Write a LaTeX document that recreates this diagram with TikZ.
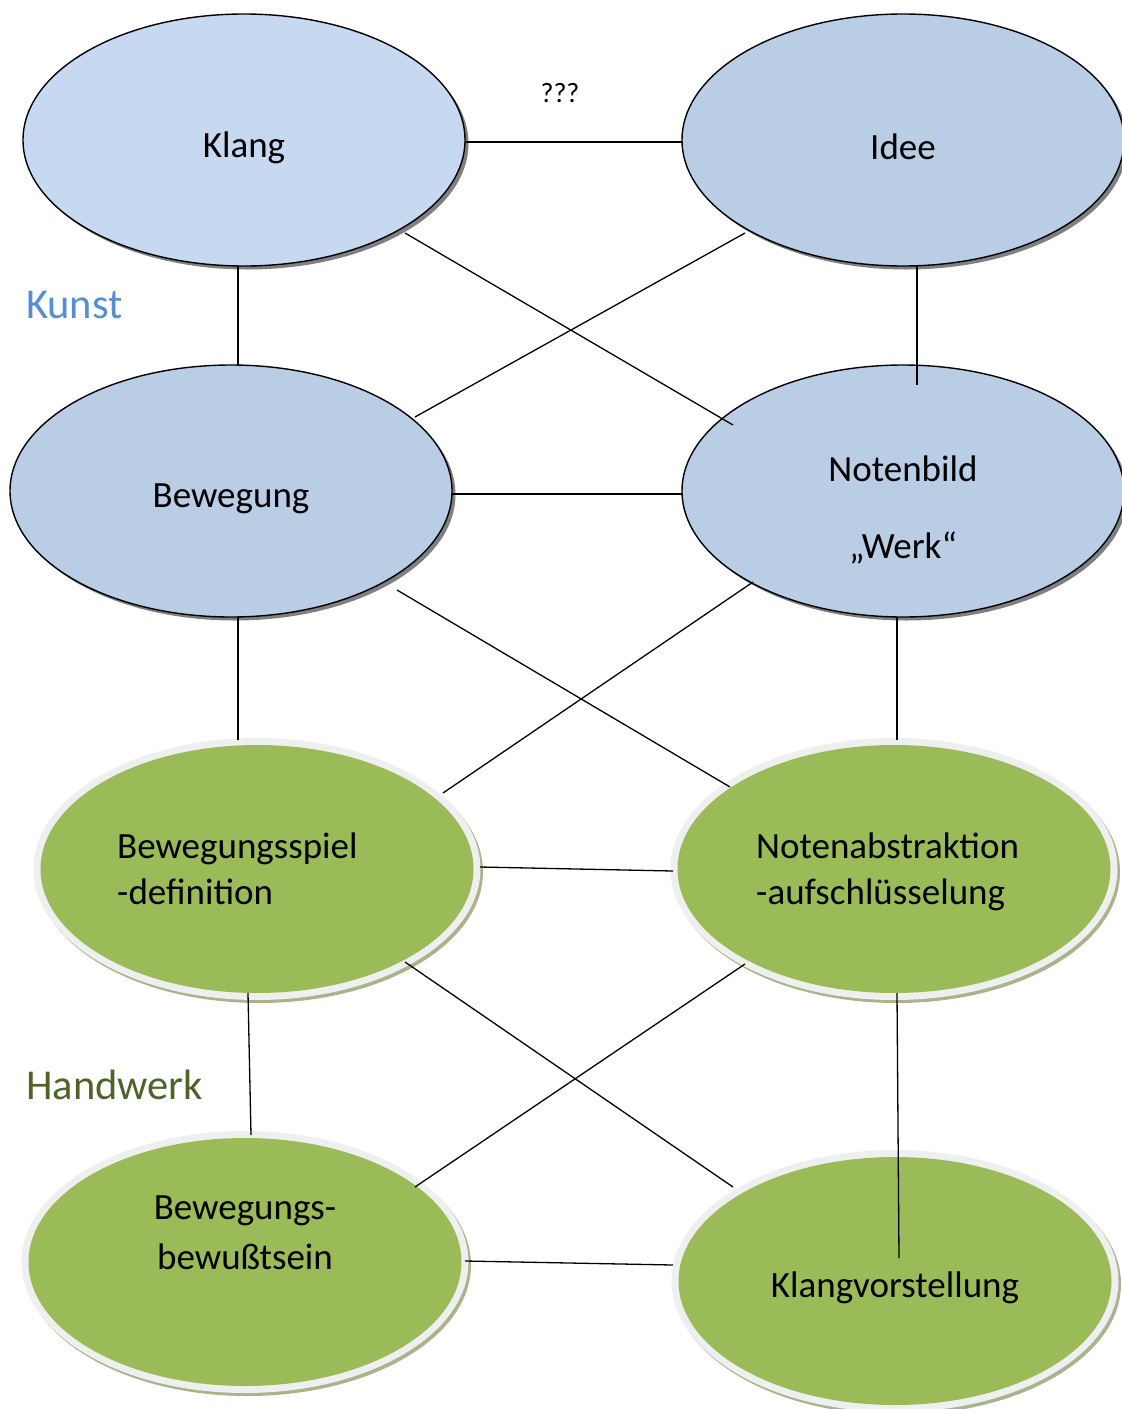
\documentclass[tikz,border=0pt]{standalone}
\usepackage{fontspec}
\setmainfont{Carlito}
\usetikzlibrary{shapes.geometric,shadows,calc}
\definecolor{klangblue}{HTML}{C6D9F1}
\definecolor{nodeblue}{HTML}{B9CDE5}
\definecolor{nodegreen}{HTML}{9BBB59}
\definecolor{ringgray}{HTML}{EFEFEF}
\definecolor{greenshadow}{HTML}{A9B38C}
\definecolor{kunstblue}{HTML}{558ED5}
\definecolor{handwerkgreen}{HTML}{4F6228}
\tikzset{
  blueell/.style={ellipse, draw=black, line width=1.4pt, inner sep=0pt,
    minimum width=442pt, minimum height=252pt,
    drop shadow={shadow xshift=3.5pt, shadow yshift=-3.5pt, fill=black!50, opacity=1}},
  greenring/.style={ellipse, fill=ringgray, inner sep=0pt,
    minimum width=447pt, minimum height=262pt,
    drop shadow={shadow xshift=2.5pt, shadow yshift=-3pt, fill=greenshadow, opacity=1}},
  greencore/.style={ellipse, fill=nodegreen, inner sep=0pt,
    minimum width=433pt, minimum height=248pt},
  bigtext/.style={font=\fontsize{37}{46}\selectfont, inner sep=0pt},
  smalltext/.style={font=\fontsize{28}{34}\selectfont, inner sep=0pt},
  sidelabel/.style={font=\fontsize{42.5}{50}\selectfont, inner sep=0pt, anchor=west},
  conn/.style={draw=black, line width=1.3pt}
}
\begin{document}
\begin{tikzpicture}[x=1pt, y=-1pt]
\useasboundingbox (0,0) rectangle (1122,1409);

% blue ellipses
\node[blueell, fill=klangblue] (K) at (244,140) {};
\node[blueell, fill=nodeblue] (I) at (903,140) {};
\node[blueell, fill=nodeblue] (B) at (231,491) {};
\node[blueell, fill=nodeblue] (N) at (903,491) {};

% green ellipses
\node[greenring] (BS) at (257,869) {};
\node[greencore] (BSc) at (257,869) {};
\node[greenring] (NA) at (894,869) {};
\node[greencore] (NAc) at (894,869) {};
\node[greenring] (BB) at (245,1262) {};
\node[greencore] (BBc) at (245,1262) {};
\node[greenring] (KV) at (895,1281) {};
\node[greencore] (KVc) at (895,1281) {};

% connectors
\draw[conn] ($(K.center)+(222,2)$) -- ($(I.center)+(-220,2)$);
\draw[conn] ($(K.center)+(-6,126)$) -- ($(B.center)+(7,-125)$);
\draw[conn] ($(I.center)+(14,126)$) -- ($(N.center)+(14,-106)$);
\draw[conn] ($(K.center)+(161,93)$) -- ($(N.center)+(-170,-66)$);
\draw[conn] ($(I.center)+(-158,93)$) -- ($(B.center)+(184,-74)$);
\draw[conn] ($(B.center)+(221,3)$) -- ($(N.center)+(-220,3)$);
\draw[conn] ($(B.center)+(7,126)$) -- ($(BS.center)+(-19,-129)$);
\draw[conn] ($(N.center)+(-6,126)$) -- ($(NA.center)+(3,-129)$);
\draw[conn] ($(B.center)+(166,99)$) -- ($(NA.center)+(-164,-82)$);
\draw[conn] ($(N.center)+(-150,91)$) -- ($(BS.center)+(186,-76)$);
\draw[conn] ($(BS.center)+(223,-2)$) -- ($(NA.center)+(-221,2)$);
\draw[conn] ($(BS.center)+(-9,124)$) -- ($(BB.center)+(6,-127)$);
\draw[conn] ($(NA.center)+(3,124)$) -- ($(KV.center)+(4,-23)$);
\draw[conn] ($(BS.center)+(148,93)$) -- ($(KV.center)+(-162,-94)$);
\draw[conn] ($(NA.center)+(-149,95)$) -- ($(BB.center)+(170,-75)$);
\draw[conn] ($(BB.center)+(220,-1)$) -- ($(KV.center)+(-222,-16)$);

% texts
\node[smalltext] (q) at (560,93) {???};
\node[bigtext] (tK) at (244,148) {Klang};
\node[bigtext] (tI) at (903,147) {Idee};
\node[bigtext] (tB) at (231,499) {Bewegung};
\node[bigtext] (tN1) at (903,469) {Notenbild};
\node[bigtext] (tN2) at (903,548) {„Werk“};
\node[bigtext, align=left, anchor=west] (tBS) at (117,869) {Bewegungsspiel\\-definition};
\node[bigtext, align=left, anchor=west] (tNA) at (756,872) {Notenabstraktion\\-aufschlüsselung};
\node[bigtext, align=center, font=\fontsize{37}{50}\selectfont] (tBB) at (245,1233) {Bewegungs-\\bewußtsein};
\node[bigtext] (tKV) at (895,1288) {Klangvorstellung};
\node[sidelabel, text=kunstblue] (kunst) at (26,305) {Kunst};
\node[sidelabel, text=handwerkgreen] (hw) at (26,1085) {Handwerk};
\end{tikzpicture}
\end{document}
